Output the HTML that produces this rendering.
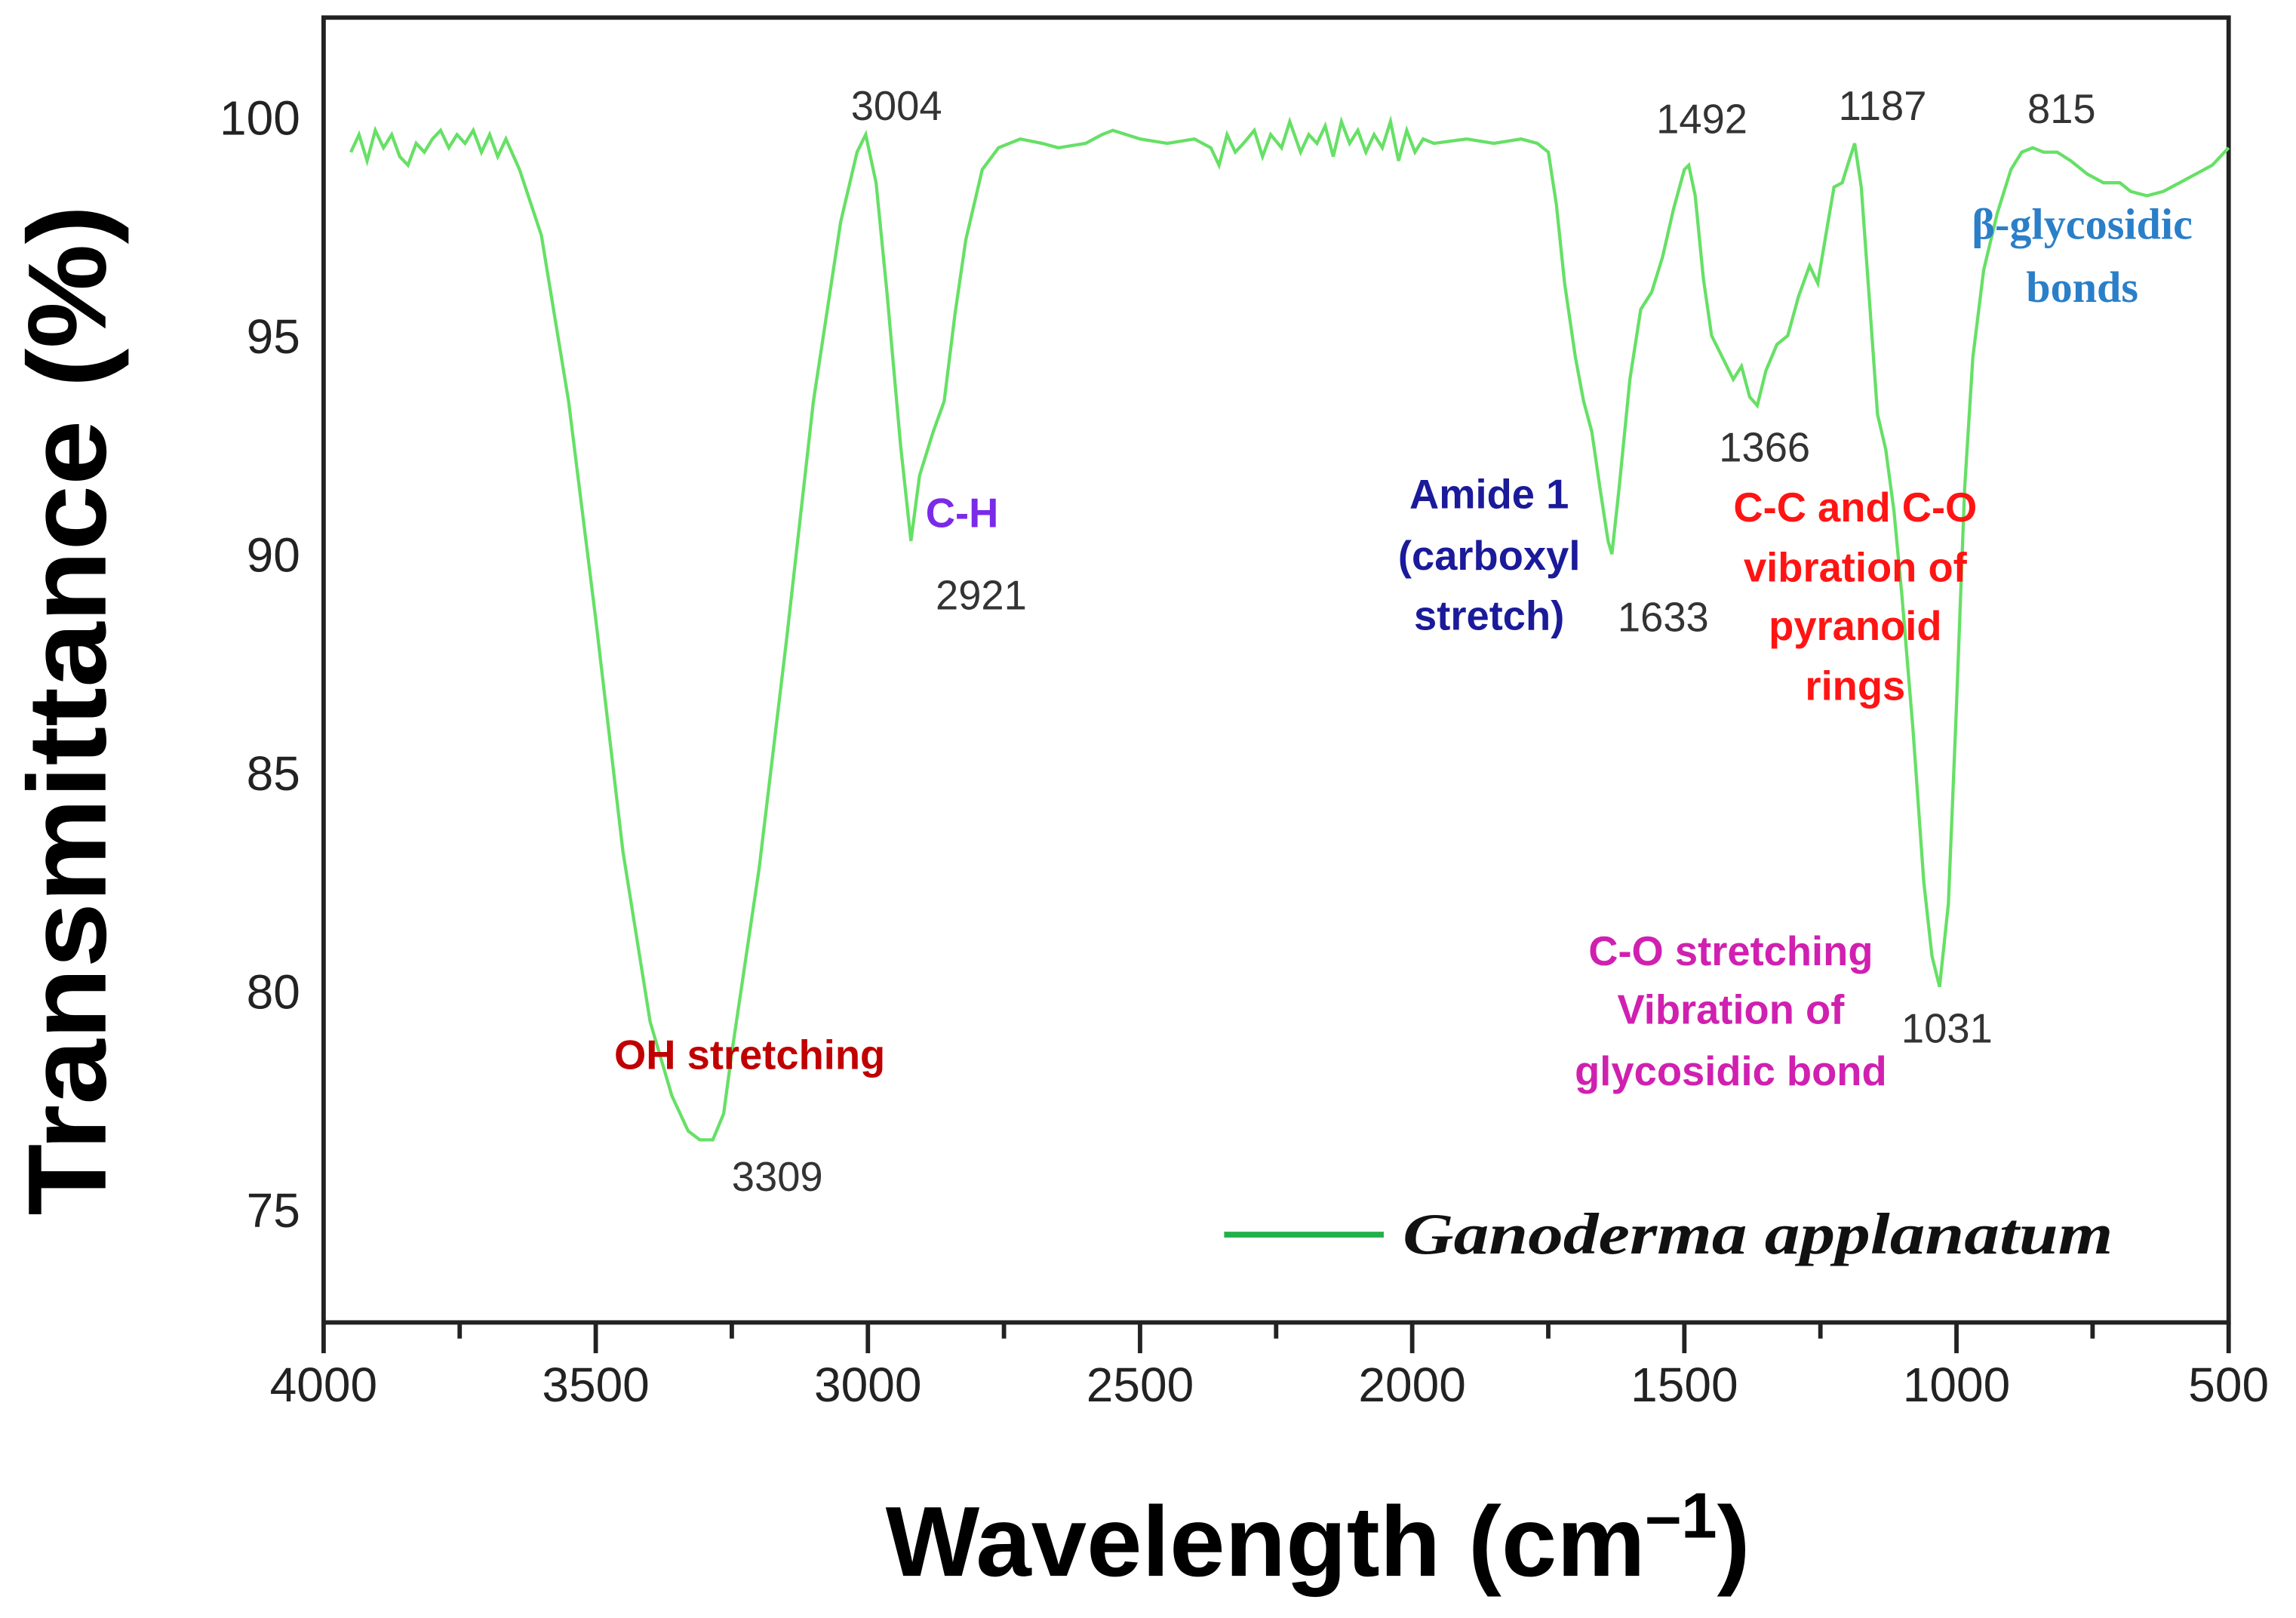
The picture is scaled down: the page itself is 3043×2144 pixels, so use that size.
<!DOCTYPE html>
<html><head><meta charset="utf-8"><style>
html,body{margin:0;padding:0;background:#fff;}
svg{display:block;}
.tk{font-family:"Liberation Sans",sans-serif;font-size:33px;fill:#222;}
.pk{font-family:"Liberation Sans",sans-serif;font-size:28px;fill:#333;}
.an{font-family:"Liberation Sans Narrow","Liberation Sans",sans-serif;font-weight:bold;font-size:28px;}
</style></head><body>
<svg id="chart" width="3043" height="2144" viewBox="0 0 1568 1104.8" preserveAspectRatio="none" xmlns="http://www.w3.org/2000/svg">
<rect x="0" y="0" width="1568" height="1105" fill="#fff"/>
<rect x="221" y="12" width="1301" height="891" fill="none" stroke="#222" stroke-width="3"/>
<g id="xticks"></g><g id="yticks"></g>
<path id="spectrum" fill="none" stroke="#66e066" stroke-width="2.2"/>
<text transform="translate(72,485) rotate(-90)" text-anchor="middle" font-family="Liberation Sans,sans-serif" font-weight="bold" font-size="76" textLength="690" lengthAdjust="spacingAndGlyphs" fill="#000">Transmittance (%)</text>
<text x="900" y="1076" text-anchor="middle" font-family="Liberation Sans,sans-serif" font-weight="bold" font-size="68" fill="#000">Wavelength (cm<tspan dy="-26" font-size="44">–1</tspan><tspan dy="26">)</tspan></text>
<line x1="836" y1="843" x2="945" y2="843" stroke="#22b04a" stroke-width="4"/>
<text x="958" y="856" font-family="Liberation Serif,serif" font-weight="bold" font-style="italic" font-size="40" textLength="485" lengthAdjust="spacingAndGlyphs" fill="#111">Ganoderma applanatum</text>
<g id="peaks"></g>
<g text-anchor="middle">
<text class="an" x="512" y="730" fill="#c00000">OH stretching</text>
<text class="an" x="657" y="360" fill="#7a2ae8">C-H</text>
<text class="an" fill="#1a1a9a"><tspan x="1017" y="347">Amide 1</tspan><tspan x="1017" y="389">(carboxyl</tspan><tspan x="1017" y="430">stretch)</tspan></text>
<text class="an" fill="#ff1414"><tspan x="1267" y="356">C-C and C-O</tspan><tspan x="1267" y="397">vibration of</tspan><tspan x="1267" y="437">pyranoid</tspan><tspan x="1267" y="478">rings</tspan></text>
<text class="an" fill="#d020b0"><tspan x="1182" y="659">C-O stretching</tspan><tspan x="1182" y="699">Vibration of</tspan><tspan x="1182" y="741">glycosidic bond</tspan></text>
<text fill="#2a7fc8" font-family="Liberation Serif,serif" font-weight="bold" font-size="30"><tspan x="1422" y="163">β-glycosidic</tspan><tspan x="1422" y="206">bonds</tspan></text>
</g>
</svg>
<script>
const xTickValues=[4000,3500,3000,2500,2000,1500,1000,500];
const xMinorValues=[3750,3250,2750,2250,1750,1250,750];
const yTickValues=[100,95,90,85,80,75];
const wavenumbers=[3950,3935,3920,3905,3890,3875,3860,3845,3830,3815,3800,3785,3770,3755,3740,3725,3710,3695,3680,3665,3640,3600,3550,3500,3450,3400,3360,3330,3309,3285,3265,3250,3200,3150,3100,3050,3020,3004,2985,2965,2940,2921,2905,2880,2860,2840,2820,2790,2760,2720,2680,2650,2600,2570,2550,2500,2450,2400,2370,2355,2340,2325,2310,2290,2275,2260,2240,2225,2205,2190,2175,2160,2145,2130,2115,2100,2085,2070,2055,2040,2025,2010,1995,1980,1960,1900,1850,1800,1770,1750,1735,1720,1700,1685,1670,1655,1640,1633,1620,1600,1580,1560,1540,1520,1500,1492,1480,1465,1450,1430,1410,1395,1380,1366,1350,1330,1310,1290,1270,1255,1240,1225,1210,1200,1187,1175,1160,1145,1130,1115,1100,1080,1060,1045,1031,1015,1000,985,970,950,925,900,880,860,840,815,790,760,730,700,680,650,620,590,560,530,500];
const transmittance=[99.2,99.6,99.0,99.7,99.3,99.6,99.1,98.9,99.4,99.2,99.5,99.7,99.3,99.6,99.4,99.7,99.2,99.6,99.1,99.5,98.8,97.3,93.5,88.5,83.2,79.3,77.6,76.8,76.6,76.6,77.2,78.6,82.8,88.0,93.5,97.6,99.2,99.6,98.5,96.0,92.5,90.3,91.8,92.8,93.5,95.5,97.2,98.8,99.3,99.5,99.4,99.3,99.4,99.6,99.7,99.5,99.4,99.5,99.3,98.9,99.6,99.2,99.4,99.7,99.1,99.6,99.3,99.9,99.2,99.6,99.4,99.8,99.1,99.9,99.4,99.7,99.2,99.6,99.3,99.9,99.0,99.7,99.2,99.5,99.4,99.5,99.4,99.5,99.4,99.2,98.0,96.2,94.5,93.5,92.8,91.5,90.3,90.0,91.5,94.0,95.6,96.0,96.8,97.9,98.8,98.9,98.2,96.3,95.0,94.5,94.0,94.3,93.6,93.4,94.2,94.8,95.0,95.9,96.6,96.2,97.3,98.4,98.5,98.9,99.4,98.4,95.8,93.2,92.4,91.0,89.0,86.0,82.5,80.8,80.1,82.0,86.5,91.5,94.5,96.5,97.8,98.8,99.2,99.3,99.2,99.2,99.0,98.7,98.5,98.5,98.3,98.2,98.3,98.5,98.7,98.9,99.3];
const peakLabels=["3004","3309","2921","1633","1492","1366","1187","815","1031"];
const peakWn=[3004,3309,2921,1633,1492,1366,1187,815,1031];
const peakT=[100.27,75.77,89.07,88.57,99.97,92.46,100.27,100.2,79.16];
const labelShift={"3004":21,"3309":53,"2921":48,"1633":35,"1492":9,"1366":5,"1187":19,"815":3,"1031":5};
const X0=221,X1=1522,Y100=80,Y75=826;
function sx(w){return X0+(4000-w)*(X1-X0)/3500;}
function sy(t){return Y100+(100-t)*(Y75-Y100)/25;}
const NS="http://www.w3.org/2000/svg";
function mk(tag,attrs,parent){const e=document.createElementNS(NS,tag);for(const k in attrs)e.setAttribute(k,attrs[k]);parent.appendChild(e);return e;}
const xg=document.getElementById('xticks');
xTickValues.forEach(v=>{
 const l=mk('line',{x1:sx(v),x2:sx(v),y1:903,y2:924,stroke:'#222','stroke-width':3},xg);
 
 
 const t=mk('text',{x:sx(v),y:957,'text-anchor':'middle',class:'tk'},xg);
 
 
 t.textContent=v;
});
xMinorValues.forEach(v=>{
 const l=mk('line',{x1:sx(v),x2:sx(v),y1:903,y2:914,stroke:'#222','stroke-width':3},xg);
 
 
});
const yg=document.getElementById('yticks');
yTickValues.forEach(v=>{
 const t=mk('text',{x:205,y:sy(v)+12,'text-anchor':'end',class:'tk'},yg);
 
 
 t.textContent=v;
});
let d='';
wavenumbers.forEach((w,i)=>{d+=(i?'L':'M')+sx(w).toFixed(1)+','+sy(transmittance[i]).toFixed(1);});
document.getElementById('spectrum').setAttribute('d',d);
const pg=document.getElementById('peaks');
peakLabels.forEach((s,i)=>{
 const t=mk('text',{x:sx(peakWn[i])+labelShift[s],y:sy(peakT[i])+10,'text-anchor':'middle',class:'pk'},pg);
 
 
 t.textContent=s;
});
</script>
</body></html>
